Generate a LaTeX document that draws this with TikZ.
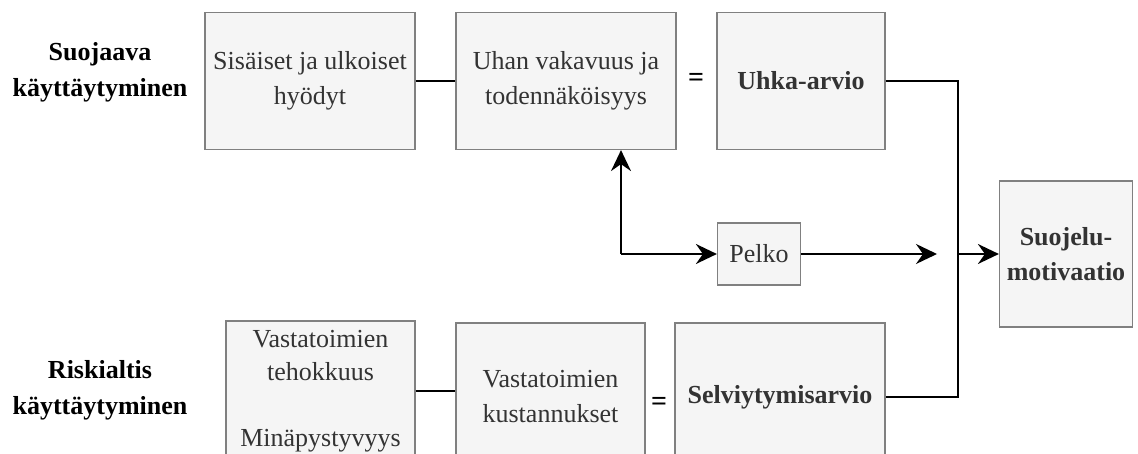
\documentclass[tikz,border=0pt]{standalone}
\usepackage{fontspec}
\setmainfont{Liberation Serif}
\usetikzlibrary{positioning,calc,arrows.meta}

\tikzset{
  box/.style={draw=black!50,fill=black!4,line width=1.2pt,text=black!80,
    align=center,inner sep=0pt,font=\fontsize{26}{35}\selectfont},
  boldbox/.style={box,font=\fontsize{26}{35}\selectfont\bfseries},
  lbl/.style={align=center,font=\fontsize{26}{36}\selectfont\bfseries},
  conn/.style={line width=1.8pt},
  arr/.style={conn,-{Stealth[length=21pt,width=20pt,inset=7pt]}}
}

\begin{document}
\begin{tikzpicture}[x=1pt,y=-1pt]
\useasboundingbox (0,0) rectangle (1138,454);
\clip (0,0) rectangle (1138,454);

% labels on the left
\node[lbl] (suoj) at (100,72) {Suojaava\\käyttäytyminen};
\node[lbl] (risk) at (100,390) {Riskialtis\\käyttäytyminen};

% top row
\node[box,minimum width=210,minimum height=137] (hyod) at (310,81) {Sisäiset ja ulkoiset\\hyödyt};
\node[box,minimum width=220,minimum height=137] (uhan) at (566,81) {Uhan vakavuus ja\\todennäköisyys};
\node[font=\fontsize{28}{30}\selectfont\bfseries] (eq1) at (696,80) {=};
\node[boldbox,minimum width=168,minimum height=137] (uhka) at (801,81) {Uhka-arvio};

% middle
\node[box,minimum width=83,minimum height=62] (pelko) at (759,254) {Pelko};
\node[boldbox,minimum width=133,minimum height=146] (suojelu) at (1066,254) {Suojelu-\\motivaatio};

% bottom row
\node[box,minimum width=189,minimum height=140,font=\fontsize{26}{33}\selectfont] (teho) at (320.5,391) {Vastatoimien\\tehokkuus\\[33pt]Minäpystyvyys};
\node[box,minimum width=189,minimum height=148] (kust) at (550.5,397) {Vastatoimien\\kustannukset};
\node[font=\fontsize{28}{30}\selectfont\bfseries] (eq2) at (659,404) {=};
\node[boldbox,minimum width=210,minimum height=148] (selv) at (780,397) {Selviytymisarvio};

% connectors
\coordinate (jct) at (958,254);
\coordinate (fork) at (621,254);
\coordinate (pend) at (937,254);

\draw[conn] (hyod.east) -- (uhan.west);
\draw[conn] (teho.east) -- (teho.east -| kust.west);
\draw[conn] (uhka.east) -| (jct) |- (selv.east);
\draw[arr] (jct) -- (suojelu.west);
\draw[arr] (pelko.east) -- (pend);
\draw[arr] (fork) -- (pelko.west);
\draw[arr] (fork) -- (fork |- uhan.south);

\end{tikzpicture}
\end{document}
